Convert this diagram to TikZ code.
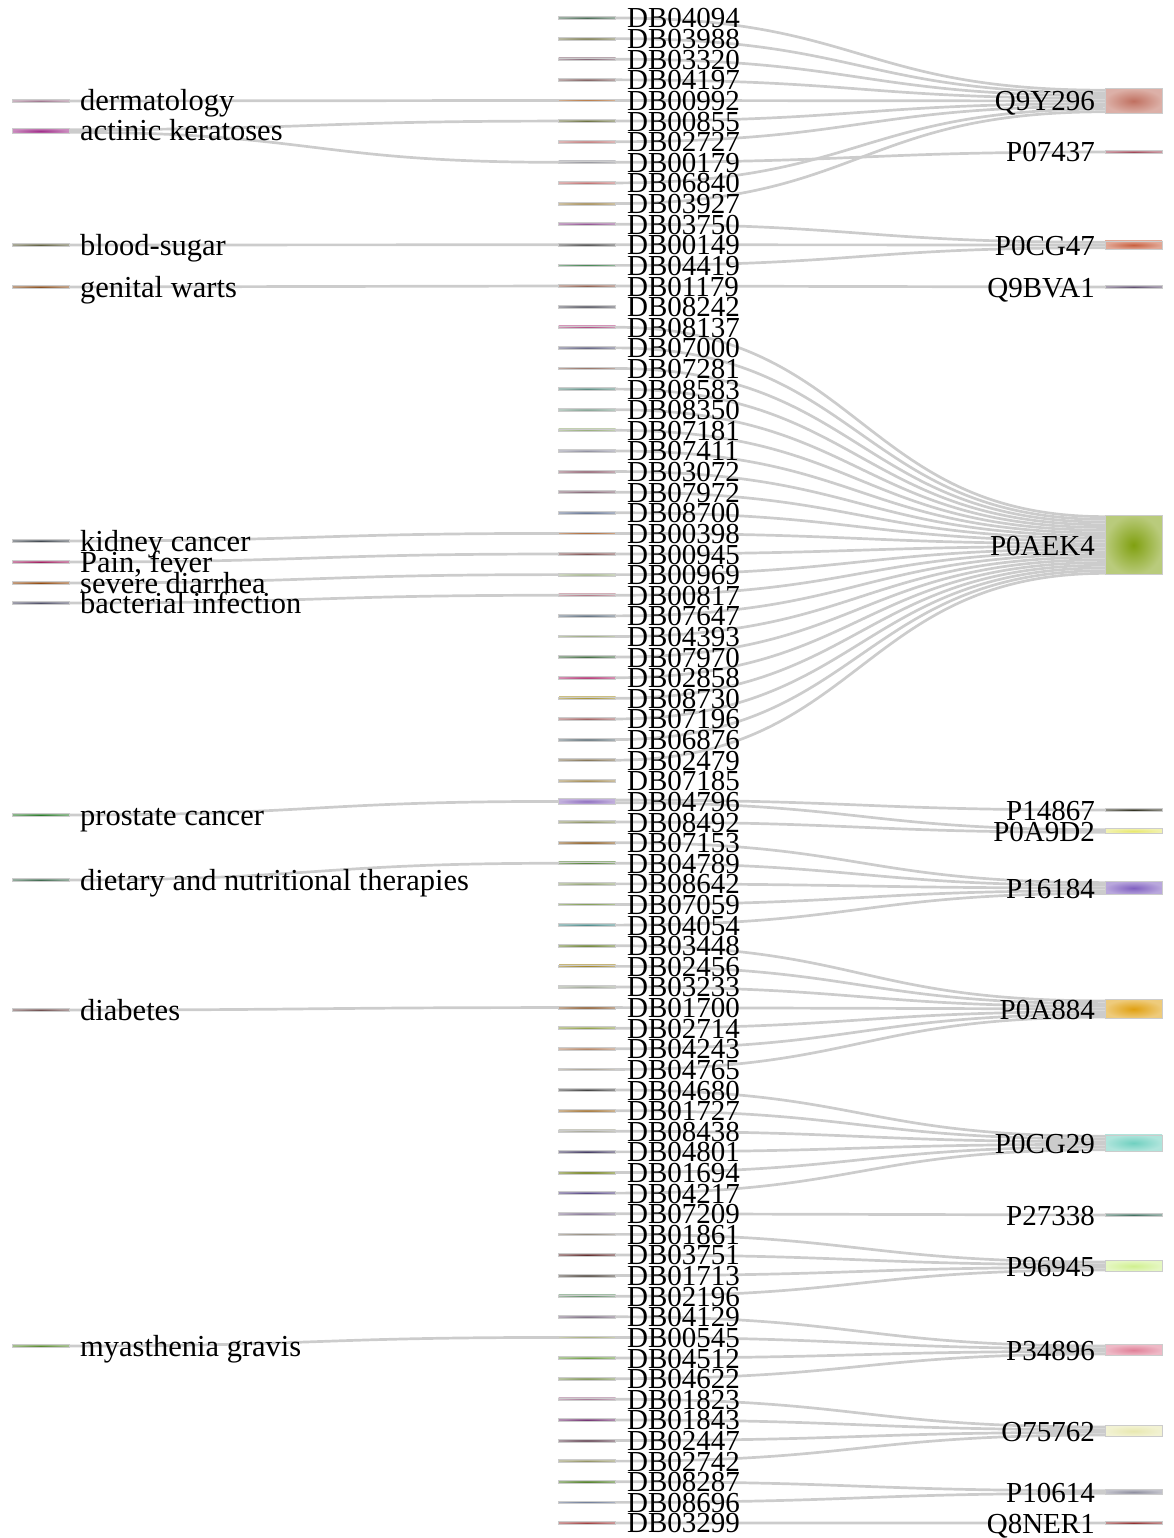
\documentclass[tikz,border=0pt]{standalone}
\usepackage{fontspec}
\setmainfont{Liberation Serif}
\usetikzlibrary{calc, backgrounds}

\begin{document}
\begin{tikzpicture}[x=1pt, y=-1pt,
		bar/.style={rectangle, draw=black!20, line width=0.7, inner sep=0, outer sep=0,
			minimum width=57, inner color=#1, outer color=#1!55},
		link/.style={draw=black!20, line width=2.7},
		lab/.style={inner sep=0, font=\fontsize{29}{30}\selectfont},
		wordlab/.style={inner sep=0, font=\fontsize{30.5}{31}\selectfont}]
			\def\u{2.7};
			\def\gap{245};
			\def\xl{40.5};
			\def\xm{587};
			\def\xr{1133.5};
			
			\useasboundingbox (0,0) rectangle (1174,1538);

			% conditions
			\foreach \nm/\tx/\y/\h/\cl in {dermatology/dermatology/101/1/A07890,
				actinic/actinic keratoses/131/2/A0308A, bloodsugar/blood-sugar/245/1/606040,
				genital/genital warts/287/1/8A5020, kidney/kidney cancer/541/1/404850,
				pain/{Pain, fever}/562/1/A02060, diarrhea/severe diarrhea/583/1/904A10,
				bacterial/bacterial infection/603/1/505068, prostate/prostate cancer/815/1/2A7A2A,
				dietary/dietary and nutritional therapies/880/1/406A50,
				diabetes/diabetes/1010/1/705050, myasthenia/myasthenia gravis/1346/1/5A8A30}
			{
				\definecolor{c\nm}{HTML}{\cl}
				\node[bar=c\nm, minimum height=\h*\u] (\nm) at (\xl,\y) {};
				\node[wordlab, anchor=base west] (\nm-t) at ($(\nm.east)+(11,10)$) {\tx};
			}

			% drugs
			\foreach \nm/\cl/\h [count=\i] in {DB04094/4A6B55/1, DB03988/7A7A50/1, DB03320/806070/1,
				DB04197/806060/1, DB00992/B06A30/1, DB00855/6A7040/1, DB02727/C07878/1, DB00179/909098/1,
				DB06840/C07070/1, DB03927/A08850/1, DB03750/905090/1, DB00149/505050/1, DB04419/2E7A3E/1,
				DB01179/906050/1, DB08242/555560/1, DB08137/B04080/1, DB07000/606080/1, DB07281/8A6050/1,
				DB08583/5A8A80/1, DB08350/80A090/1, DB07181/90A870/1, DB07411/9090A0/1, DB03072/906070/1,
				DB07972/806070/1, DB08700/607090/1, DB00398/A85A20/1, DB00945/805050/1, DB00969/A0B088/1,
				DB00817/B07080/1, DB07647/607080/1, DB04393/90A070/1, DB07970/406A40/1, DB02858/B03070/1,
				DB08730/A08A20/1, DB07196/A06060/1, DB06876/607078/1, DB02479/807050/1, DB07185/A08850/1,
				DB04796/9070C0/2, DB08492/8A9060/1, DB07153/8A5A20/1, DB04789/4A7A2A/1, DB08642/90A070/1,
				DB07059/70903A/1, DB04054/4A8A8A/1, DB03448/6A8030/1, DB02456/9A7A10/1, DB03233/A0A898/1,
				DB01700/8A5A30/1, DB02714/8A9A40/1, DB04243/B08060/1, DB04765/A09888/1, DB04680/404040/1,
				DB01727/A07030/1, DB08438/A0A090/1, DB04801/403860/1, DB01694/6A7A10/1, DB04217/504080/1,
				DB07209/807090/1, DB01861/8A8070/1, DB03751/602A2A/1, DB01713/504840/1, DB02196/5A8A60/1,
				DB04129/7A6A80/1, DB00545/A0A870/1, DB04512/6A9A40/1, DB04622/7A9050/1, DB01823/A07090/1,
				DB01843/703070/1, DB02447/604050/1, DB02742/909060/1, DB08287/4A7A20/1, DB08696/607090/1,
				DB03299/A04040/1}
			{
				\definecolor{c\nm}{HTML}{\cl}
				\node[bar=c\nm, minimum height=\h*\u] (\nm) at (\xm,{18+(\i-1)*20.616}) {};
				\node[lab, anchor=base west] (\nm-t) at ($(\nm.east)+(11.5,10)$) {\nm};
			}

			% proteins
			\foreach \nm/\y/\h/\cl in {Q9Y296/101/9/C07060, P07437/152/1/A04858, P0CG47/245/3/C86040,
				Q9BVA1/287/1/605070, P0AEK4/545/22/80A010, P14867/810/1/303020, P0A9D2/831/2/E8E870,
				P16184/888/5/8060C0, P0A884/1009/7/E0A010, P0CG29/1143/6/70D0C0, P27338/1215/1/407060,
				P96945/1266/4/D0F090, P34896/1350/4/E08098, O75762/1431/4/E8E8B0, P10614/1492/2/9090A0,
				Q8NER1/1523/1/903030}
			{
				\definecolor{c\nm}{HTML}{\cl}
				\node[bar=c\nm, minimum height=\h*\u] (\nm) at (\xr,\y) {};
				\node[lab, anchor=base east] (\nm-t) at ($(\nm.west)+(-10,10)$) {\nm};
			}

			\begin{scope}[on background layer]
				% condition -> drug
				\foreach \s/\j/\n/\t in {dermatology/0/1/DB00992, actinic/0/2/DB00855, actinic/1/2/DB00179,
					bloodsugar/0/1/DB00149, genital/0/1/DB01179, kidney/0/1/DB00398, pain/0/1/DB00945,
					diarrhea/0/1/DB00969, bacterial/0/1/DB00817, prostate/0/1/DB04796,
					dietary/0/1/DB04789, diabetes/0/1/DB01700, myasthenia/0/1/DB00545}
				{
					\pgfmathsetmacro\off{(\j-(\n-1)/2)*\u}
					\draw[link] ($(\s.east)+(0,\off)$) .. controls +(\gap,0) and +(-\gap,0) .. (\t.west);
				}

				% drug -> protein
				\foreach \t/\n/\srcs in {Q9Y296/9/{DB04094,DB03988,DB03320,DB04197,DB00992,DB00855,DB02727,DB06840,DB03927},
					P07437/1/{DB00179}, P0CG47/3/{DB03750,DB00149,DB04419}, Q9BVA1/1/{DB01179},
					P0AEK4/22/{DB08137,DB07000,DB07281,DB08583,DB08350,DB07181,DB07411,DB03072,DB07972,DB08700,DB00398,
						DB00945,DB00969,DB00817,DB07647,DB04393,DB07970,DB02858,DB08730,DB07196,DB06876,DB02479},
					P16184/5/{DB07153,DB04789,DB08642,DB07059,DB04054},
					P0A884/7/{DB03448,DB02456,DB03233,DB01700,DB02714,DB04243,DB04765},
					P0CG29/6/{DB04680,DB01727,DB08438,DB04801,DB01694,DB04217},
					P27338/1/{DB07209}, P96945/4/{DB01861,DB03751,DB01713,DB02196},
					P34896/4/{DB04129,DB00545,DB04512,DB04622}, O75762/4/{DB01823,DB01843,DB02447,DB02742},
					P10614/2/{DB08287,DB08696}, Q8NER1/1/{DB03299}}
				{
					\foreach \s [count=\j from 0] in \srcs
					{
						\pgfmathsetmacro\off{(\j-(\n-1)/2)*\u}
						\draw[link] (\s.east) .. controls +(\gap,0) and +(-\gap,0) .. ($(\t.west)+(0,\off)$);
					}
				}

				% DB04796 has two targets
				\draw[link] ($(DB04796.east)+(0,-\u/2)$) .. controls +(\gap,0) and +(-\gap,0) .. (P14867.west);
				\draw[link] ($(DB04796.east)+(0,\u/2)$) .. controls +(\gap,0) and +(-\gap,0) .. ($(P0A9D2.west)+(0,-\u/2)$);
				\draw[link] (DB08492.east) .. controls +(\gap,0) and +(-\gap,0) .. ($(P0A9D2.west)+(0,\u/2)$);
			\end{scope}
		\end{tikzpicture}
\end{document}
